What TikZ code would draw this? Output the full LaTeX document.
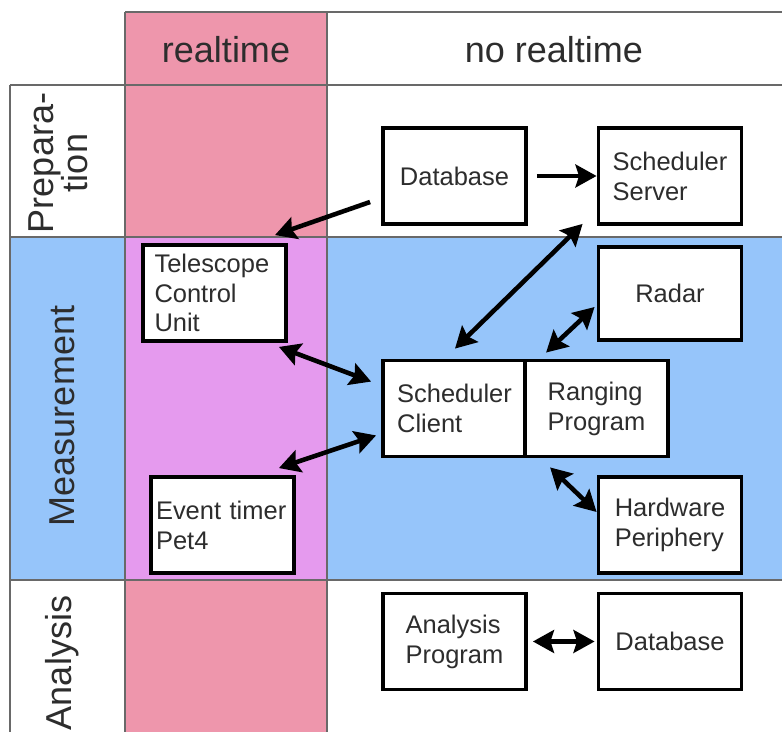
\documentclass[tikz,border=0pt]{standalone}
\usepackage{fontspec}
\setmainfont{Liberation Sans}
\usetikzlibrary{arrows.meta}

\definecolor{rtpink}{RGB}{238,150,172}
\definecolor{mblue}{RGB}{150,197,250}
\definecolor{rtviolet}{RGB}{229,154,238}
\definecolor{txtgray}{RGB}{45,45,45}
\definecolor{gridgray}{RGB}{105,105,105}

\tikzset{
  box/.style={draw=black, line width=2.2pt, fill=white, minimum width=2.86cm,
    minimum height=1.92cm, align=left, text=txtgray,
    font=\fontsize{14.5}{17}\selectfont},
  head/.style={text=txtgray, font=\fontsize{20.5}{19.5}\selectfont},
  grid/.style={gridgray, line width=0.8pt},
  flow/.style={line width=2.6pt, -{Stealth[length=12pt,width=13pt,inset=2pt]}},
  link/.style={line width=2.6pt,
    {Stealth[length=12pt,width=13pt,inset=2pt]}-{Stealth[length=12pt,width=13pt,inset=2pt]}},
}

\begin{document}
\begin{tikzpicture}[x=0.02cm, y=-0.02cm]
    \useasboundingbox (0,0) rectangle (782,732);

    % Columns and rows
    \fill[rtpink] (125,12) rectangle (327,732);
    \fill[mblue] (10,237) rectangle (782,580);
    \fill[rtviolet] (125,237) rectangle (327,580);
    \draw[grid] (125,12) -- (782,12);
    \foreach \y in {85,237,580}
        \draw[grid] (10,\y) -- (782,\y);
    \foreach \x in {125,327}
        \draw[grid] (\x,12) -- (\x,732);
    \draw[grid] (10,85) -- (10,732);

    % Headers
    \node[head] (rt) at (226,50) {realtime};
    \node[head] (nrt) at (554,50) {no realtime};
    \node[head, rotate=90, align=center] (prep) at (58,163) {Prepara-\\tion};
    \node[head, rotate=90] (meas) at (62,416) {Measurement};
    \node[head, rotate=90] (ana) at (62,663) {Analysis};

    % Preparation
    \node[box] (db) at (454.5,176) {Database};
    \node[box] (srv) at (670,176) {Scheduler\\Server};

    % Measurement
    \node[box, minimum height=1.86cm] (radar) at (670,293.5) {Radar};
    \node[box, text width=2.4cm, inner xsep=0.23cm] (tcu) at (214.5,293) {Telescope\\Control\\Unit};
    \node[box] (sc) at (454.5,408.5) {Scheduler\\Client};
    \node[box] (rp) at (596.5,408.5) {Ranging\\Program};
    \node[box, text width=2.66cm, inner xsep=0.1cm] (et) at (222.5,525) {Event timer\\Pet4};
    \node[box] (hw) at (670,525) {Hardware\\Periphery};

    % Analysis
    \node[box] (ap) at (454.5,641.5) {Analysis\\Program};
    \node[box] (db2) at (670,641.5) {Database};

    % Connections
    \draw[flow, shorten <=0.18cm] (db.east) -- (srv.west);
    \draw[flow] ([shift={(-11,26)}]db.west) -- ([shift={(60.5,-8)}]tcu.north);
    \draw[link] ([shift={(-14,-2)}]srv.south west) -- ([shift={(0.5,-10)}]sc.north);
    \draw[link] ([shift={(-2,13.5)}]radar.west) -- ([shift={(23,-6)}]rp.north west);
    \draw[link] ([shift={(-9,4)}]tcu.south east) -- ([shift={(-10,23)}]sc.north west);
    \draw[link] ([shift={(-17,-7)}]et.north east) -- ([shift={(-5,-23)}]sc.south west);
    \draw[link] ([shift={(27,9)}]rp.south west) -- ([shift={(0,-13)}]hw.west);
    \draw[link, shorten <=0.1cm, shorten >=0.04cm] (ap.east) -- (db2.west);
\end{tikzpicture}
\end{document}
